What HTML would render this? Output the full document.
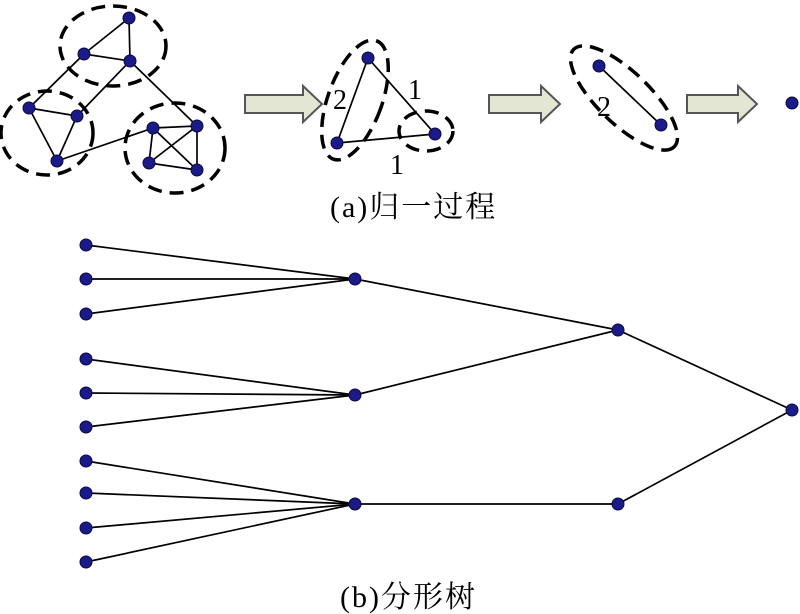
<!DOCTYPE html>
<html><head><meta charset="utf-8"><style>
html,body{margin:0;padding:0;background:#fff;}
svg{display:block;}
text{font-family:"Liberation Serif","Noto Serif CJK SC",serif;fill:#000;}
</style></head><body>
<svg width="800" height="614" viewBox="0 0 800 614" xmlns="http://www.w3.org/2000/svg">
<g stroke="#000" stroke-width="1.7" fill="none">
<line x1="129" y1="18" x2="130" y2="61"/><line x1="84" y1="54" x2="130" y2="61"/><line x1="129" y1="18" x2="84" y2="54"/>
<line x1="84" y1="54" x2="29" y2="108"/><line x1="130" y1="61" x2="77" y2="116"/><line x1="130" y1="61" x2="197" y2="126"/>
<line x1="29" y1="108" x2="77" y2="116"/><line x1="29" y1="108" x2="57" y2="161"/><line x1="77" y1="116" x2="57" y2="161"/>
<line x1="57" y1="161" x2="153" y2="128"/>
<line x1="153" y1="128" x2="197" y2="126"/><line x1="153" y1="128" x2="149" y2="163"/><line x1="149" y1="163" x2="197" y2="170"/>
<line x1="197" y1="126" x2="197" y2="170"/><line x1="153" y1="128" x2="197" y2="170"/><line x1="149" y1="163" x2="197" y2="126"/>
<line x1="368" y1="58" x2="337" y2="143"/><line x1="368" y1="58" x2="435" y2="134"/><line x1="337" y1="143" x2="435" y2="134"/>
<line x1="599" y1="66" x2="661" y2="125"/>
<line x1="86" y1="245" x2="355" y2="279"/><line x1="86" y1="279" x2="355" y2="279"/><line x1="86" y1="314" x2="355" y2="279"/>
<line x1="86" y1="359" x2="355" y2="395"/><line x1="86" y1="393" x2="355" y2="395"/><line x1="86" y1="427" x2="355" y2="395"/>
<line x1="86" y1="461" x2="355" y2="504"/><line x1="86" y1="493" x2="355" y2="504"/><line x1="86" y1="528" x2="355" y2="504"/><line x1="86" y1="562" x2="355" y2="504"/>
<line x1="355" y1="279" x2="618" y2="330"/><line x1="355" y1="395" x2="618" y2="330"/><line x1="355" y1="504" x2="618" y2="504"/>
<line x1="618" y1="330" x2="792" y2="410"/><line x1="618" y1="504" x2="792" y2="410"/>
</g>
<g stroke="#000" stroke-width="3.5" fill="none" stroke-dasharray="14 8">
<ellipse cx="113" cy="46" rx="53" ry="40"/>
<ellipse cx="47" cy="133" rx="46" ry="42"/>
<ellipse cx="175" cy="148" rx="50" ry="45"/>
<ellipse cx="355" cy="100" rx="27" ry="63" transform="rotate(20 355 100)"/>
<ellipse cx="426" cy="131" rx="27" ry="20"/>
<ellipse cx="624" cy="98" rx="70" ry="26" transform="rotate(44 624 98)"/>
</g>
<g fill="#1a1a88" stroke="#0a0a40" stroke-width="1">
<circle cx="129" cy="18" r="6"/><circle cx="84" cy="54" r="6"/><circle cx="130" cy="61" r="6"/>
<circle cx="29" cy="108" r="6"/><circle cx="77" cy="116" r="6"/><circle cx="57" cy="161" r="6"/>
<circle cx="153" cy="128" r="6"/><circle cx="197" cy="126" r="6"/><circle cx="149" cy="163" r="6"/><circle cx="197" cy="170" r="6"/>
<circle cx="368" cy="58" r="6"/><circle cx="337" cy="143" r="6"/><circle cx="435" cy="134" r="6"/>
<circle cx="599" cy="66" r="6"/><circle cx="661" cy="125" r="6"/><circle cx="792" cy="103" r="6"/>
<circle cx="86" cy="245" r="6"/><circle cx="86" cy="279" r="6"/><circle cx="86" cy="314" r="6"/><circle cx="86" cy="359" r="6"/><circle cx="86" cy="393" r="6"/><circle cx="86" cy="427" r="6"/><circle cx="86" cy="461" r="6"/><circle cx="86" cy="493" r="6"/><circle cx="86" cy="528" r="6"/><circle cx="86" cy="562" r="6"/>
<circle cx="355" cy="279" r="6"/><circle cx="355" cy="395" r="6"/><circle cx="355" cy="504" r="6"/>
<circle cx="618" cy="330" r="6"/><circle cx="618" cy="504" r="6"/><circle cx="792" cy="410" r="6"/>
</g>
<g fill="#e4e6d4" stroke="#555" stroke-width="2">
<path d="M245 95 H303 V86 L322 104 L303 122 V113 H245 Z"/>
<path d="M489 95 H541 V86 L560 104 L541 122 V113 H489 Z"/>
<path d="M687 95 H738 V86 L757 104 L738 122 V113 H687 Z"/>
</g>
<text x="333" y="109" font-size="28">2</text>
<text x="408" y="99" font-size="28">1</text>
<text x="390" y="174" font-size="28">1</text>
<text x="597" y="116" font-size="28">2</text>
<text x="330" y="217" font-size="30" letter-spacing="2">(a)归一过程</text>
<text x="340" y="607" font-size="30" letter-spacing="2">(b)分形树</text>
</svg>
</body></html>
